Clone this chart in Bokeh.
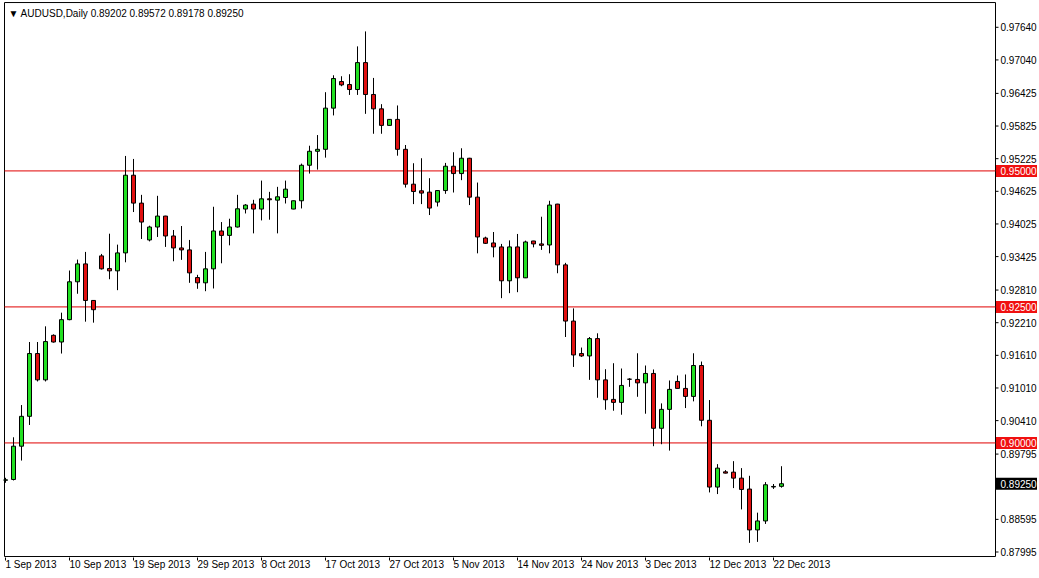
from bokeh.plotting import figure
from bokeh.models import ColumnDataSource, Range1d, FixedTicker, Label
from bokeh.core.properties import value
from bokeh.embed import file_html
from bokeh.resources import INLINE

# ---- data (AUDUSD daily, bar index 0 = 1 Sep 2013) ----
opens = [0.89313, 0.89328, 0.89940, 0.90489, 0.91643, 0.91159, 0.91978, 0.91855, 0.92266, 0.92962,
         0.93291, 0.92619, 0.93438, 0.93205, 0.93163, 0.93493, 0.94921, 0.94408, 0.93731, 0.93969,
         0.94170, 0.93804, 0.93584, 0.93548, 0.93040, 0.92943, 0.93200, 0.93896, 0.93815, 0.93969,
         0.94299, 0.94390, 0.94299, 0.94487, 0.94463, 0.94511, 0.94299, 0.94451, 0.95104, 0.95361,
         0.95397, 0.96154, 0.96643, 0.96588, 0.96496, 0.96991, 0.96405, 0.96141, 0.95837, 0.95947,
         0.95397, 0.94756, 0.94634, 0.94610, 0.94427, 0.94639, 0.95086, 0.94951, 0.95233, 0.94518,
         0.93767, 0.93676, 0.93603, 0.92980, 0.93603, 0.93035, 0.93712, 0.93658, 0.93639, 0.94390,
         0.93273, 0.92240, 0.91643, 0.91599, 0.91918, 0.91159, 0.90800, 0.90745, 0.91172, 0.91167,
         0.91104, 0.91277, 0.90269, 0.90617, 0.91130, 0.91002, 0.90855, 0.91423, 0.90416, 0.89189,
         0.89469, 0.89463, 0.89353, 0.89152, 0.88401, 0.88566, 0.89190, 0.89202]
highs = [0.89359, 0.90104, 0.90696, 0.91855, 0.91855, 0.92143, 0.91996, 0.92394, 0.93169, 0.93370,
         0.93511, 0.92625, 0.93474, 0.93846, 0.93645, 0.95275, 0.95220, 0.94560, 0.93993, 0.94542,
         0.94175, 0.93914, 0.93987, 0.93731, 0.93090, 0.93511, 0.94341, 0.94060, 0.94121, 0.94560,
         0.94390, 0.94469, 0.94822, 0.94615, 0.94707, 0.94822, 0.94455, 0.95134, 0.95463, 0.95659,
         0.96447, 0.96758, 0.96740, 0.96777, 0.97289, 0.97564, 0.96709, 0.96227, 0.95953, 0.96203,
         0.95476, 0.95141, 0.95233, 0.94866, 0.94645, 0.95147, 0.95343, 0.95416, 0.95240, 0.94786,
         0.93791, 0.93877, 0.93658, 0.93723, 0.93841, 0.93718, 0.93715, 0.94158, 0.94451, 0.94395,
         0.93310, 0.92473, 0.91753, 0.91947, 0.92015, 0.91355, 0.91465, 0.91368, 0.91190, 0.91648,
         0.91423, 0.91350, 0.90727, 0.91148, 0.91240, 0.91258, 0.91648, 0.91496, 0.90788, 0.89610,
         0.89500, 0.89665, 0.89537, 0.89396, 0.88718, 0.89280, 0.89245, 0.89572]
lows = [0.89267, 0.89310, 0.89676, 0.90330, 0.91130, 0.91130, 0.91844, 0.91643, 0.92255, 0.92742,
        0.92229, 0.92211, 0.93187, 0.93009, 0.92808, 0.93320, 0.94244, 0.93749, 0.93705, 0.93786,
        0.93603, 0.93339, 0.93365, 0.92943, 0.92833, 0.92789, 0.92839, 0.93302, 0.93632, 0.93960,
        0.94218, 0.93852, 0.94090, 0.94103, 0.93852, 0.94401, 0.94295, 0.94310, 0.94951, 0.95024,
        0.95244, 0.96020, 0.96557, 0.96397, 0.96397, 0.96049, 0.95683, 0.95683, 0.95833, 0.95280,
        0.94694, 0.94390, 0.94390, 0.94189, 0.94346, 0.94579, 0.94603, 0.94830, 0.94372, 0.93485,
        0.93658, 0.93412, 0.92661, 0.92753, 0.92771, 0.93030, 0.93595, 0.93548, 0.93485, 0.93119,
        0.91947, 0.91397, 0.91581, 0.91159, 0.90830, 0.90610, 0.90592, 0.90518, 0.91031, 0.90848,
        0.90537, 0.89940, 0.89976, 0.89859, 0.90998, 0.90641, 0.90764, 0.90306, 0.89090, 0.89060,
        0.89440, 0.89170, 0.88778, 0.88163, 0.88181, 0.88511, 0.89155, 0.89178]
closes = [0.89322, 0.89940, 0.90489, 0.91643, 0.91159, 0.91863, 0.91855, 0.92266, 0.92962, 0.93291,
          0.92619, 0.92449, 0.93200, 0.93163, 0.93493, 0.94921, 0.94408, 0.94060, 0.93969, 0.94170,
          0.93804, 0.93584, 0.93548, 0.93126, 0.92943, 0.93200, 0.93896, 0.93815, 0.93969, 0.94304,
          0.94372, 0.94299, 0.94487, 0.94470, 0.94524, 0.94665, 0.94451, 0.95104, 0.95361, 0.95397,
          0.96154, 0.96698, 0.96581, 0.96496, 0.96991, 0.96405, 0.96141, 0.95837, 0.95947, 0.95397,
          0.94756, 0.94621, 0.94592, 0.94317, 0.94639, 0.95086, 0.94951, 0.95233, 0.94518, 0.93786,
          0.93669, 0.93603, 0.92980, 0.93603, 0.93035, 0.93694, 0.93658, 0.93632, 0.94372, 0.93273,
          0.92240, 0.91617, 0.91599, 0.91918, 0.91159, 0.90793, 0.90745, 0.91057, 0.91170, 0.91104,
          0.91277, 0.90269, 0.90617, 0.90984, 0.91002, 0.90855, 0.91423, 0.90416, 0.89189, 0.89537,
          0.89445, 0.89353, 0.89145, 0.88401, 0.88566, 0.89231, 0.89200, 0.89250]

date_tick_idx = [0, 8, 16, 24, 32, 40, 48, 56, 64, 72, 80, 88, 96]
date_labels = ["1 Sep 2013", "10 Sep 2013", "19 Sep 2013", "29 Sep 2013", "8 Oct 2013",
               "17 Oct 2013", "27 Oct 2013", "5 Nov 2013", "14 Nov 2013", "24 Nov 2013",
               "3 Dec 2013", "12 Dec 2013", "22 Dec 2013"]
price_ticks = [0.97640, 0.97040, 0.96425, 0.95825, 0.95225, 0.94625, 0.94025, 0.93425, 0.92810,
               0.92210, 0.91610, 0.91010, 0.90410, 0.89795, 0.88595, 0.87995]
levels = [0.95000, 0.92500, 0.90000]
symbol = "AUDUSD,Daily"

# ---- styling / geometry ----
FONT = "Liberation Sans"
FS = "10px"
BULL = "#22E022"
BEAR = "#E01010"
LEVEL = "#E00000"
BOX_RED = "#F01010"
PX_PER_BAR = 8.0
X_LEFT, X_RIGHT = -0.25, 129.25          # full frame (includes price-scale column)
Y_LOW, Y_HIGH = 0.87894, 0.98114
CH_LEFT, CH_RIGHT = -0.125, 123.75       # chart window edges (bar units)
CH_BOTTOM, CH_TOP = 0.87912, 0.98095     # chart window edges (price)

x = list(range(len(opens)))
src = ColumnDataSource(dict(
    x=x, open=opens, high=highs, low=lows, close=closes,
    top=[max(o, c) for o, c in zip(opens, closes)],
    bottom=[min(o, c) for o, c in zip(opens, closes)],
    color=[BULL if c >= o else BEAR for o, c in zip(opens, closes)],
))

p = figure(width=1039, height=578, output_backend="svg", toolbar_location=None,
           x_range=Range1d(X_LEFT, X_RIGHT), y_range=Range1d(Y_LOW, Y_HIGH),
           y_axis_location=None, min_border_left=3, min_border_top=1,
           min_border_right=0, min_border_bottom=19,
           background_fill_color="white", border_fill_color="white",
           outline_line_color=None)
p.grid.visible = False

# chart window frame
p.quad(left=[CH_LEFT], right=[CH_RIGHT], bottom=[CH_BOTTOM], top=[CH_TOP],
       fill_color=None, line_color="black", line_width=1)

# horizontal levels
p.segment(x0=[CH_LEFT] * len(levels), x1=[CH_RIGHT] * len(levels), y0=levels, y1=levels,
          line_color=LEVEL, line_width=1)

# candles
p.segment(x0="x", y0="low", x1="x", y1="high", source=src, line_color="black", line_width=1)
p.vbar(x="x", width=0.5, top="top", bottom="bottom", source=src,
       fill_color="color", line_color="black", line_width=1)

# price scale (MT4 style, right of the chart window)
tick_len = 3 / PX_PER_BAR
lab_x = CH_RIGHT + 5 / PX_PER_BAR
p.segment(x0=[CH_RIGHT] * len(price_ticks), x1=[CH_RIGHT + tick_len] * len(price_ticks),
          y0=price_ticks, y1=price_ticks, line_color="black", line_width=1)
p.text(x=[lab_x] * len(price_ticks), y=price_ticks, text=[f"{v:.5f}" for v in price_ticks],
       text_font=value(FONT), text_font_size=value(FS), text_color="black",
       text_align="left", text_baseline="middle")

box_x = CH_RIGHT + 21 / PX_PER_BAR
box_y = levels + [closes[-1]]
box_c = [BOX_RED] * len(levels) + ["black"]
p.rect(x=[box_x] * len(box_y), y=box_y, width=41, height=12, width_units="screen",
       height_units="screen", fill_color=box_c, line_color=None)
p.text(x=[lab_x] * len(box_y), y=box_y, text=[f"{v:.5f}" for v in box_y],
       text_font=value(FONT), text_font_size=value(FS), text_color="white",
       text_align="left", text_baseline="middle")

# bottom date axis (real axis; tiny negative angle gives left-aligned labels)
xa = p.xaxis[0]
xa.ticker = FixedTicker(ticks=date_tick_idx, minor_ticks=[])
xa.major_label_overrides = {i: s for i, s in zip(date_tick_idx, date_labels)}
xa.major_label_orientation = -1e-4
xa.major_tick_out = 3
xa.major_tick_in = 0
xa.minor_tick_out = 0
xa.minor_tick_in = 0
xa.major_label_standoff = 4
xa.axis_line_color = None
xa.major_tick_line_color = "black"
xa.major_label_text_font = FONT
xa.major_label_text_font_size = FS
xa.major_label_text_color = "black"

# header text
header = "\u25BC " + symbol + "  " + " ".join(f"{v:.5f}" for v in (opens[-1], highs[-1], lows[-1], closes[-1]))
p.add_layout(Label(x=5, x_units="screen", y=0.97894, y_units="data", text=header,
                   text_color="black", text_font=FONT, text_font_size=FS,
                   text_baseline="middle", text_align="left"))

open("out.html", "w").write(file_html(p, INLINE))
